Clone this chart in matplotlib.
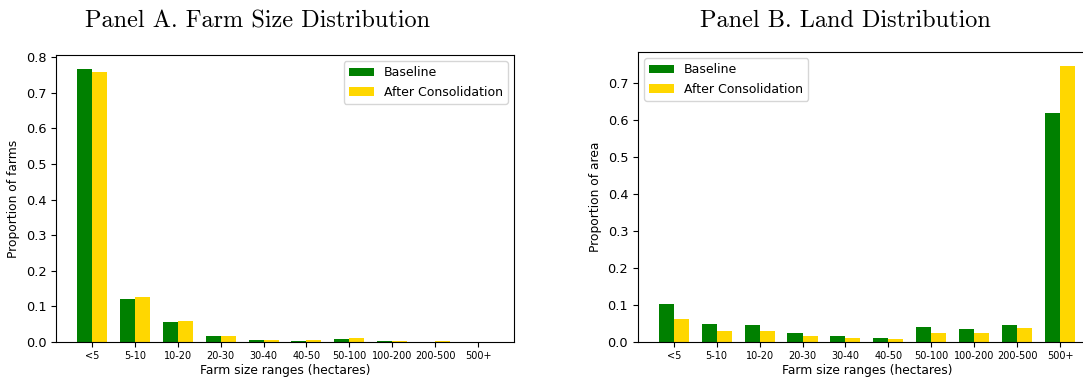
import numpy as np
import matplotlib
matplotlib.use("Agg")
import matplotlib.pyplot as plt

# Farm size classes and shares before / after consolidation
categories = ["<5", "5-10", "10-20", "20-30", "30-40", "40-50",
              "50-100", "100-200", "200-500", "500+"]

farms_baseline = [0.767, 0.122, 0.057, 0.016, 0.0066, 0.004,
                  0.009, 0.004, 0.001, 0.0002]
farms_after = [0.758, 0.126, 0.060, 0.018, 0.0066, 0.0056,
               0.010, 0.004, 0.003, 0.0003]

area_baseline = [0.103, 0.049, 0.046, 0.025, 0.017, 0.012,
                 0.041, 0.035, 0.046, 0.617]
area_after = [0.062, 0.031, 0.029, 0.015, 0.010, 0.009,
              0.025, 0.025, 0.038, 0.745]

GREEN = "green"
GOLD = "gold"
W = 0.35

fig = plt.figure(figsize=(10.83, 3.77), dpi=100)
ax_a = fig.add_axes([0.0517, 0.0928, 0.4229, 0.761])
ax_b = fig.add_axes([0.589, 0.0928, 0.4229, 0.769])


def panel(ax, base, after, ylabel, legend_loc):
    x = np.arange(len(categories))
    ax.bar(x - W / 2, base, W, color=GREEN, label="Baseline")
    ax.bar(x + W / 2, after, W, color=GOLD, label="After Consolidation")
    ax.set_xticks(x)
    ax.set_xticklabels(categories, fontsize=7)
    ax.tick_params(axis="y", labelsize=9.3)
    ax.tick_params(axis="x", pad=3)
    ax.set_xlabel("Farm size ranges (hectares)", fontsize=8.8, labelpad=2)
    ax.set_ylabel(ylabel, fontsize=8.8)
    ax.legend(loc=legend_loc, fontsize=9)


panel(ax_a, farms_baseline, farms_after, "Proportion of farms", "upper right")
panel(ax_b, area_baseline, area_after, "Proportion of area", "upper left")

fig.text(258 / 1083, 1 - 21 / 377, "Panel A. Farm Size Distribution",
         family="cmr10", fontsize=17.5, ha="center", va="center")
fig.text(845 / 1083, 1 - 21 / 377, "Panel B. Land Distribution",
         family="cmr10", fontsize=17.5, ha="center", va="center")

fig.savefig("out.png", dpi=100)
